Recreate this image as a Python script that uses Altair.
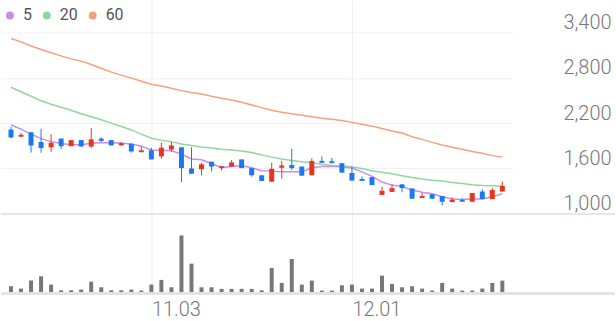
import altair as alt
import pandas as pd

# ---- data ----
idx = list(range(50))
tick_idx = [14, 34]
tick_labels = ["11.03", "12.01"]
price_ticks = [1000, 1600, 2200, 2800, 3400]

open_ = [2115, 2020, 2080, 1950, 1880, 1995, 1895, 1975, 1890, 1995,
         1975, 1905, 1925, 1815, 1840, 1760, 1850, 1880, 1600, 1590,
         1690, 1605, 1625, 1720, 1605, 1510, 1425, 1610, 1645, 1625,
         1510, 1700, 1695, 1670, 1540, 1460, 1485, 1250, 1290, 1390,
         1335, 1210, 1260, 1235, 1155, 1185, 1160, 1295, 1195, 1295]
high = [2150, 2070, 2080, 2125, 2055, 1995, 1975, 1975, 2135, 2010,
        1975, 1950, 1935, 1890, 1875, 1940, 1950, 1880, 1880, 1675,
        1690, 1635, 1710, 1720, 1605, 1510, 1675, 1700, 1860, 1625,
        1735, 1760, 1740, 1670, 1625, 1495, 1485, 1360, 1385, 1390,
        1335, 1275, 1260, 1235, 1220, 1205, 1275, 1325, 1345, 1430]
low = [2000, 2020, 1810, 1810, 1820, 1855, 1895, 1890, 1870, 1950,
       1905, 1905, 1810, 1815, 1720, 1730, 1820, 1420, 1530, 1510,
       1560, 1575, 1625, 1605, 1490, 1435, 1425, 1465, 1580, 1505,
       1510, 1675, 1670, 1545, 1440, 1435, 1380, 1250, 1290, 1285,
       1200, 1210, 1200, 1110, 1155, 1160, 1160, 1195, 1195, 1295]
close = [2010, 2045, 1905, 1870, 1940, 1895, 1975, 1890, 1985, 1965,
         1905, 1935, 1825, 1840, 1720, 1875, 1905, 1605, 1530, 1655,
         1625, 1630, 1680, 1605, 1510, 1435, 1595, 1640, 1605, 1505,
         1700, 1675, 1670, 1545, 1440, 1435, 1380, 1305, 1340, 1340,
         1200, 1235, 1200, 1160, 1185, 1160, 1275, 1195, 1315, 1370]
ma5 = [2175, 2120, 2055, 1995, 1955, 1930, 1915, 1915, 1935, 1940,
       1945, 1935, 1925, 1895, 1845, 1840, 1835, 1790, 1725, 1715,
       1665, 1610, 1625, 1640, 1610, 1570, 1565, 1555, 1555, 1555,
       1610, 1625, 1630, 1620, 1605, 1555, 1495, 1420, 1380, 1360,
       1315, 1285, 1265, 1225, 1195, 1190, 1195, 1195, 1225, 1265]
ma20 = [2675, 2615, 2555, 2495, 2450, 2410, 2370, 2325, 2285, 2245,
        2200, 2155, 2110, 2055, 2000, 1975, 1955, 1925, 1905, 1885,
        1870, 1855, 1845, 1830, 1810, 1780, 1750, 1725, 1705, 1690,
        1675, 1655, 1640, 1635, 1620, 1600, 1570, 1550, 1530, 1505,
        1480, 1460, 1445, 1435, 1415, 1400, 1385, 1375, 1370, 1365]
ma60 = [3320, 3275, 3220, 3175, 3130, 3090, 3050, 3020, 2975, 2925,
        2875, 2835, 2795, 2755, 2715, 2690, 2660, 2630, 2605, 2585,
        2555, 2530, 2505, 2475, 2440, 2405, 2370, 2345, 2325, 2305,
        2285, 2265, 2250, 2235, 2210, 2185, 2160, 2130, 2095, 2070,
        2020, 1985, 1945, 1910, 1880, 1855, 1825, 1800, 1770, 1750]
volume = [146, 100, 260, 346, 180, 66, 66, 80, 240, 126,
          66, 66, 80, 60, 180, 274, 126, 1166, 600, 126,
          126, 94, 94, 94, 94, 66, 514, 214, 694, 180,
          260, 60, 60, 166, 180, 100, 100, 360, 194, 126,
          146, 100, 60, 214, 100, 60, 60, 100, 214, 260]
ma_names = ["5", "20", "60"]

df = pd.DataFrame({"idx": idx, "open": open_, "high": high, "low": low,
                   "close": close, "volume": volume})
df["dir"] = ["up" if c >= o else "down" for o, c in zip(open_, close)]
ma_df = pd.DataFrame({
    "idx": idx * 3,
    "ma": [ma_names[0]] * 50 + [ma_names[1]] * 50 + [ma_names[2]] * 50,
    "value": ma5 + ma20 + ma60,
})

# ---- styling ----
FONT = "Roboto"
RED = "#e8361d"
BLUE = "#1b79ef"
MA_COLORS = ["#c98ceb", "#8dd8a1", "#f6a17b"]
W, H = 513, 294

label_expr = " : ".join(
    f"datum.value == {i} ? '{t}'" for i, t in zip(tick_idx, tick_labels)
) + " : ''"

x_scale = alt.Scale(domain=[-0.5, 49.5], nice=False, zero=False)
x_axis = alt.Axis(values=tick_idx, labelExpr=label_expr, grid=True,
                  gridColor="#eeeeee", gridWidth=1, domain=False, ticks=False,
                  labelFont=FONT, labelFontSize=20, labelFontWeight=300,
                  labelColor="#777777", labelAlign="left", labelBaseline="top",
                  labelPadding=6, labelFlush=False, labelOverlap=False, title=None)
X = alt.X("idx:Q", scale=x_scale, axis=x_axis)

p_scale = alt.Scale(domain=[-55, 3822], nice=False, zero=False)
y_axis = alt.Axis(values=price_ticks, labelExpr="format(datum.value, ',')",
                  orient="right", grid=True,
                  gridColor="#f0f0f0", domain=False, ticks=False, tickSize=0,
                  labelFont=FONT, labelFontSize=20, labelFontWeight=300,
                  labelColor="#777777", labelAlign="right", labelBaseline="bottom",
                  labelPadding=99, labelFlush=False, labelOverlap=False, title=None)

ma_scale = alt.Scale(domain=ma_names, range=MA_COLORS)
dir_color = alt.Color("dir:N", scale=alt.Scale(domain=["up", "down"], range=[RED, BLUE]),
                      legend=None)

# legend-only layer (draws no marks; legend entries come from the scale domain)
legend_layer = alt.Chart(ma_df).transform_filter("false").mark_circle(
    opacity=1, size=64
).encode(
    x=X,
    y=alt.Y("value:Q", scale=p_scale, axis=y_axis),
    color=alt.Color("ma:N", scale=ma_scale,
                    legend=alt.Legend(title=None, orient="none", legendX=1, legendY=7,
                                      direction="horizontal", symbolType="circle",
                                      symbolSize=64, symbolOpacity=1, symbolStrokeWidth=0,
                                      labelFont=FONT, labelFontSize=16,
                                      labelColor="#555555", labelOffset=5,
                                      columnPadding=7, padding=0)),
)
ma_lines = alt.Chart(ma_df).mark_line(strokeWidth=1.5).encode(
    x=X,
    y=alt.Y("value:Q", scale=p_scale, axis=y_axis),
    color=alt.Color("ma:N", scale=ma_scale, legend=None),
)
wicks = alt.Chart(df).mark_rule(strokeWidth=1).encode(
    x=X,
    y=alt.Y("low:Q", scale=p_scale, axis=y_axis),
    y2="high:Q",
    color=dir_color,
)
bodies = alt.Chart(df).mark_bar(size=5).encode(
    x=X,
    y=alt.Y("open:Q", scale=p_scale, axis=y_axis),
    y2="close:Q",
    color=dir_color,
)
base_price = alt.Chart(df).mark_rule(color="#e6e6e6", strokeWidth=1.2).encode(
    x=alt.value(0), x2=alt.value(616),
    y=alt.Y(datum=price_ticks[0], type="quantitative", scale=p_scale, axis=y_axis),
)
ma_part = alt.layer(legend_layer, ma_lines)
price = alt.layer(ma_part, wicks, bodies, base_price).resolve_scale(color="independent")

v_scale = alt.Scale(domain=[0, 5880], nice=False, zero=True)
vol_bars = alt.Chart(df).mark_bar(size=4, color="#777777").encode(
    x=X,
    y=alt.Y("volume:Q", scale=v_scale, axis=None),
)
vol_base = alt.Chart(df).mark_rule(color="#e3e3e3", strokeWidth=2).encode(
    x=alt.value(0), x2=alt.value(616),
    y=alt.Y(datum=0, type="quantitative", scale=v_scale, axis=None),
)
vol = alt.layer(vol_bars, vol_base)

chart = alt.layer(price, vol).resolve_scale(y="independent").properties(
    width=W, height=H, padding=0, background="white"
).configure_view(stroke=None)

chart.save("out.html", embed_options={"renderer": "svg", "actions": False})
